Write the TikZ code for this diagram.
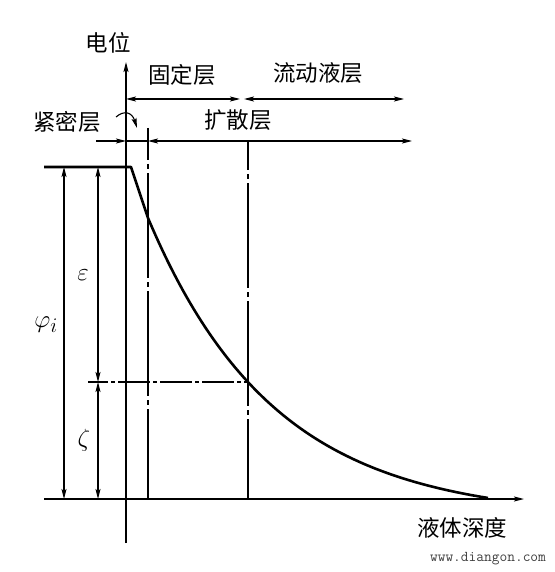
\documentclass[tikz,border=0pt]{standalone}
\usepackage{fontspec}
\newfontfamily\cjk{Noto Sans CJK SC}
\usetikzlibrary{arrows.meta}
\begin{document}
\begin{tikzpicture}[x=1pt,y=-1pt,
  arr/.style={-{Stealth[length=10pt,width=5pt,inset=2pt]}},
  darr/.style={{Stealth[length=10pt,width=5pt,inset=2pt]}-{Stealth[length=10pt,width=5pt,inset=2pt]}},
  thin/.style={line width=1.1pt},
  axis/.style={line width=1.4pt},
  vdd/.style={line width=1.1pt, dash pattern=on 105pt off 4pt on 5pt off 4pt},
  hdd/.style={line width=1.1pt, dash pattern=on 32pt off 3pt on 4pt off 3pt},
  cn/.style={font=\cjk\fontsize{22.5}{22.5}\selectfont, inner sep=0pt},
  gr/.style={font=\fontsize{28}{28}\selectfont, inner sep=0pt}]
\useasboundingbox (0,0) rectangle (554,572);
% coordinates
\coordinate (ytop) at (126,62);
\coordinate (ybot) at (126,543);
\coordinate (xl) at (44,499);
\coordinate (xr) at (524,499);
\coordinate (pl) at (44,167);
\coordinate (pr) at (131,167);
\coordinate (a1) at (148,218);
\coordinate (b1) at (248,382);
% axes
\draw[axis,arr] (ybot) -- (ytop);
\draw[axis,arr] (xl) -- (xr);
% potential curve
\draw[line width=2.6pt, line join=round] (pl) -- (pr) -- (a1)
  -- plot[domain=148:488, samples=90] (\x, {499 - (300.4*exp(-0.0079*(\x-148)) - 19.4)});
% dash-dot lines
\coordinate (v1t) at (148,128);
\coordinate (v1b) at (148,499);
\coordinate (v2t) at (248,141);
\coordinate (v2b) at (248,499);
\coordinate (hl) at (88,382);
\draw[vdd, dash phase=73pt] (v1t) -- (v1b);
\draw[vdd, dash phase=76pt] (v2t) -- (v2b);
\draw[hdd, dash phase=-30pt] (hl) -- (b1);
% top arrows
\coordinate (g1) at (126,99);
\coordinate (g2) at (240,99);
\coordinate (l1) at (244,99);
\coordinate (l2) at (404,99);
\draw[thin,darr] (g1) -- (g2);
\draw[thin,darr] (l1) -- (l2);
% diffusion layer
\coordinate (d0) at (126,141);
\coordinate (d1) at (148,141);
\coordinate (d2) at (412,141);
\coordinate (k0) at (96,141);
\draw[thin] (d0) -- (d1);
\draw[thin,darr] (d1) -- (d2);
\draw[thin,arr] (k0) -- (d0);
\coordinate (c0) at (116,117);
\coordinate (c1) at (137,128);
\draw[thin,arr] (c0) .. controls (124,110) and (132,112) .. (c1);
% left dimension arrows
\coordinate (p1) at (64,167);
\coordinate (p2) at (64,499);
\coordinate (e1) at (98,167);
\coordinate (e2) at (98,382);
\coordinate (z2) at (98,499);
\draw[thin,darr] (p1) -- (p2);
\draw[thin,darr] (e1) -- (e2);
\draw[thin,darr] (e2) -- (z2);
% labels
\node[cn] (ldw) at (108,43) {电位};
\node[cn] (lgd) at (182,75) {固定层};
\node[cn] (lld) at (318,73) {流动液层};
\node[cn] (ljm) at (67,122) {紧密层};
\node[cn] (lks) at (238,120) {扩散层};
\node[gr] (leps) at (83,275) {$\varepsilon$};
\node[gr] (lphi) at (46,325) {$\varphi_{i}$};
\node[gr] (lzeta) at (84,440) {$\zeta$};
\node[cn] (lyt) at (462,528) {液体深度};
\node[font=\ttfamily\fontsize{15}{15}\selectfont, text=black!75, inner sep=0pt] (web) at (488,559) {www.diangon.com};
\end{tikzpicture}
\end{document}
